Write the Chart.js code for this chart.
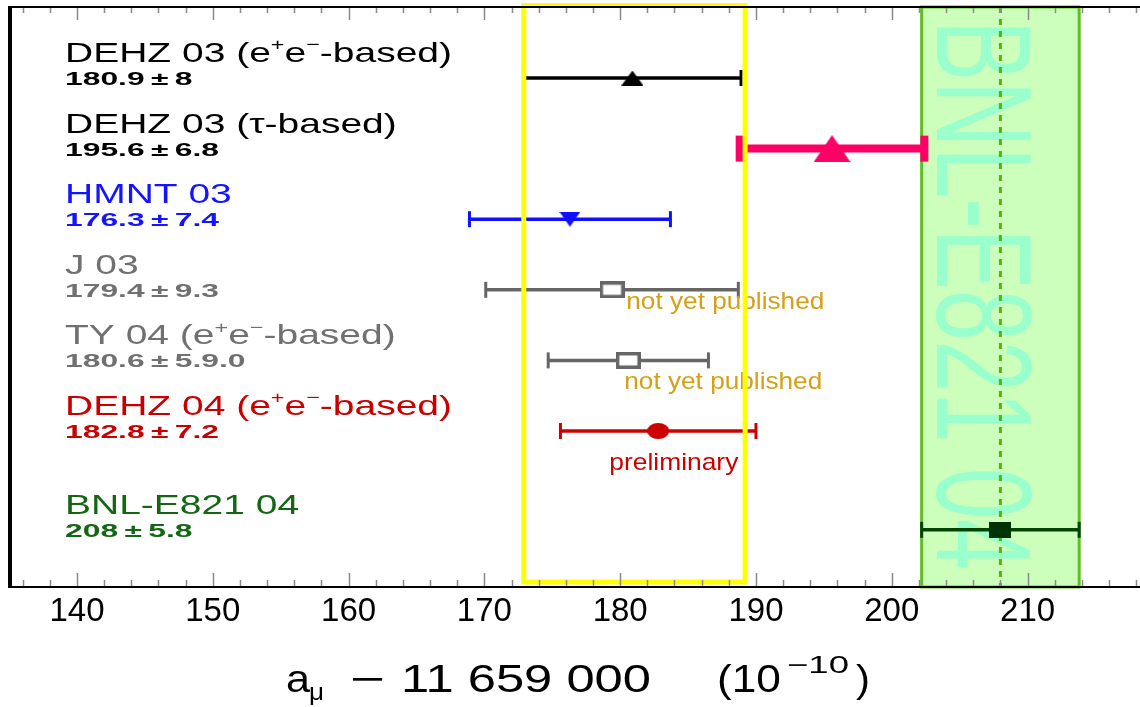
<!DOCTYPE html>
<html>
<head>
<meta charset="utf-8">
<script src="https://cdn.jsdelivr.net/npm/chart.js@4.4.1/dist/chart.umd.min.js"></script>
<style>
  html, body { margin: 0; padding: 0; background: #fff; }
  #wrap { width: 1140px; height: 707px; }
</style>
</head>
<body>
<div id="wrap"><canvas id="gm2" width="1140" height="707"></canvas></div>
<script>
// measurements of a_mu - 11 659 000, in 10^-10
const labels = [
  'DEHZ 03 (e⁺e⁻-based)',
  'DEHZ 03 (τ-based)',
  'HMNT 03',
  'J 03',
  'TY 04 (e⁺e⁻-based)',
  'DEHZ 04 (e⁺e⁻-based)',
  'BNL-E821 04'
];
const values = [180.9, 195.6, 176.3, 179.4, 180.6, 182.8, 208];
const errors = [8, 6.8, 7.4, 9.3, 5.9, 7.2, 5.8];
const valueText = ['180.9\u2009±\u20098', '195.6\u2009±\u20096.8', '176.3\u2009±\u20097.4', '179.4\u2009±\u20099.3', '180.6\u2009±\u20095.9.0', '182.8\u2009±\u20097.2', '208\u2009±\u20095.8'];
const xTicks = [140, 150, 160, 170, 180, 190, 200, 210];
const noteText = ['not yet published', 'not yet published', 'preliminary'];
const noteRow = [3, 4, 5];
const yellowBand = [172.9, 189.2];
const expIndex = 6; // BNL-E821 04 band

const FONT = '"Liberation Sans", Arial, Helvetica, sans-serif';

// look of each row
const rowStyle = [
  { color: '#000000', text: '#000000', lw: 3.5, cap: 8,  capW: 3, marker: ['triUp', 22, 15] },
  { color: '#ff0066', text: '#000000', lw: 8,   cap: 13, capW: 8, marker: ['triUp', 37, 27] },
  { color: '#1010ff', text: '#1414ff', lw: 3.5, cap: 8,  capW: 3, marker: ['triDown', 21, 15] },
  { color: '#666666', text: '#707070', lw: 3.5, cap: 8,  capW: 3, marker: ['openSq', 25, 17] },
  { color: '#666666', text: '#707070', lw: 3.5, cap: 8,  capW: 3, marker: ['openSq', 25, 17] },
  { color: '#cc0000', text: '#c80000', lw: 3.5, cap: 8,  capW: 3, marker: ['circle', 22, 16] },
  { color: '#004400', text: '#146614', lw: 3.5, cap: 8,  capW: 3, marker: ['sq', 22, 16], fill: '#003300' }
];
const slot = i => (i < 6 ? i : i + 0.4);

function makeMarker(kind, w, h, color) {
  const c = document.createElement('canvas');
  c.width = w; c.height = h;
  const g = c.getContext('2d');
  g.fillStyle = color;
  g.beginPath();
  if (kind === 'triUp') {
    g.moveTo(0, h); g.lineTo(w / 2, 0); g.lineTo(w, h); g.closePath(); g.fill();
  } else if (kind === 'triDown') {
    g.moveTo(0, 0); g.lineTo(w / 2, h); g.lineTo(w, 0); g.closePath(); g.fill();
  } else if (kind === 'circle') {
    g.ellipse(w / 2, h / 2, w / 2, h / 2, 0, 0, Math.PI * 2); g.fill();
  } else if (kind === 'openSq') {
    g.fillStyle = '#ffffff'; g.fillRect(0, 0, w, h);
    g.strokeStyle = color; g.lineWidth = 3.5;
    g.strokeRect(1.75, 1.75, w - 3.5, h - 3.5);
  } else {
    g.fillRect(0, 0, w, h);
  }
  return c;
}

const markers = rowStyle.map(s => makeMarker(s.marker[0], s.marker[1], s.marker[2], s.fill || s.color));

// error bars: one line dataset per row, end caps are rotated 'line' points
const barSets = values.map((v, i) => {
  const s = rowStyle[i];
  return {
    type: 'line',
    data: [{ x: v - errors[i], y: slot(i) }, { x: v + errors[i], y: slot(i) }],
    borderColor: s.color,
    borderWidth: s.lw,
    borderCapStyle: 'butt',
    pointStyle: 'line',
    pointRotation: 90,
    pointRadius: s.cap,
    pointBorderWidth: s.capW,
    pointBorderColor: s.color,
    pointBackgroundColor: s.color,
    showLine: true,
    fill: false,
    tension: 0,
    order: 1,
    clip: false
  };
});

const markerSet = {
  type: 'scatter',
  data: values.map((v, i) => ({ x: v, y: slot(i) })),
  pointStyle: markers,
  pointRadius: 10,
  order: 0,
  clip: false
};

// text with e⁺e⁻ style superscripts
function parts(text) {
  const out = [];
  for (const ch of text) {
    if (ch === '⁺' || ch === '⁻') out.push({ t: ch === '⁺' ? '+' : '−', sup: true });
    else if (out.length && !out[out.length - 1].sup) out[out.length - 1].t += ch;
    else out.push({ t: ch, sup: false });
  }
  return out;
}
function partsWidth(ctx, text, size, weight) {
  let w = 0;
  for (const p of parts(text)) {
    ctx.font = weight + ' ' + (p.sup ? size * 0.6 : size) + 'px ' + FONT;
    w += ctx.measureText(p.t).width;
  }
  return w;
}
function drawParts(ctx, text, x, y, size, weight, sx, color) {
  ctx.save();
  ctx.translate(x, y);
  ctx.scale(sx, 1);
  ctx.fillStyle = color;
  ctx.textBaseline = 'alphabetic';
  ctx.textAlign = 'left';
  let cx = 0;
  for (const p of parts(text)) {
    ctx.font = weight + ' ' + (p.sup ? size * 0.6 : size) + 'px ' + FONT;
    ctx.fillText(p.t, cx, p.sup ? -size * 0.42 : 0);
    cx += ctx.measureText(p.t).width;
  }
  ctx.restore();
}
function drawFit(ctx, text, x, y, font, width, color) {
  ctx.save();
  ctx.font = font;
  const sx = width ? width / ctx.measureText(text).width : 1.15;
  ctx.translate(x, y);
  ctx.scale(sx, 1);
  ctx.fillStyle = color || '#000';
  ctx.textBaseline = 'alphabetic';
  ctx.textAlign = 'left';
  ctx.fillText(text, 0, 0);
  ctx.restore();
}

const decor = {
  id: 'decor',
  beforeDatasetsDraw(chart) {
    const { ctx, chartArea: a, scales: { x } } = chart;
    const lo = x.getPixelForValue(values[expIndex] - errors[expIndex]);
    const hi = x.getPixelForValue(values[expIndex] + errors[expIndex]);
    ctx.save();
    ctx.fillStyle = '#ccffbb';
    ctx.fillRect(lo, a.top, hi - lo, a.bottom - a.top);
    ctx.strokeStyle = '#5fbf1f';
    ctx.lineWidth = 3;
    ctx.strokeRect(lo, a.top, hi - lo, a.bottom - a.top);

    // big rotated experiment name, about 550 px long
    ctx.font = '130px ' + FONT;
    const name = labels[expIndex];
    const sx = 550 / ctx.measureText(name).width;
    ctx.translate(lo + 15, a.top + 13);
    ctx.rotate(Math.PI / 2);
    ctx.scale(sx, 1.04);
    ctx.fillStyle = '#99ffcc';
    ctx.textBaseline = 'alphabetic';
    ctx.fillText(name, 0, 0);
    ctx.restore();

    const mid = x.getPixelForValue(values[expIndex]);
    ctx.save();
    ctx.strokeStyle = '#55b800';
    ctx.lineWidth = 3;
    ctx.setLineDash([6, 6]);
    ctx.beginPath();
    ctx.moveTo(mid, a.top);
    ctx.lineTo(mid, a.bottom);
    ctx.stroke();
    ctx.restore();
  },
  afterDatasetsDraw(chart) {
    const { ctx, chartArea: a, scales: { x, y } } = chart;

    // row names and values
    const lsx = 387 / partsWidth(ctx, labels[0], 28, 'normal');
    const vsx = 154 / partsWidth(ctx, valueText[1], 18, 'bold');
    labels.forEach((lab, i) => {
      const py = y.getPixelForValue(slot(i));
      drawParts(ctx, lab, 65, py - 16, 28, 'normal', lsx, rowStyle[i].text);
      drawParts(ctx, valueText[i], 65, py + 7, 18, 'bold', vsx, rowStyle[i].text);
    });

    // notes next to the bars
    const noteLook = [
      { x: 180.45, dy: 19, w: 198, color: '#d4a017' },
      { x: 180.3, dy: 29, w: 198, color: '#d4a017' },
      { x: 179.2, dy: 39, w: 129, color: '#cc0000' }
    ];
    noteText.forEach((t, k) => {
      const n = noteLook[k];
      const py = y.getPixelForValue(slot(noteRow[k]));
      drawFit(ctx, t, x.getPixelForValue(n.x), py + n.dy, '24px ' + FONT, n.w, n.color);
    });

    // yellow box
    const ya = x.getPixelForValue(yellowBand[0]);
    const yb = x.getPixelForValue(yellowBand[1]);
    ctx.save();
    ctx.strokeStyle = '#ffff00';
    ctx.lineWidth = 5;
    ctx.strokeRect(ya, a.top - 1.5, yb - ya, a.bottom - a.top - 3.5);

    // frame and inward ticks
    ctx.strokeStyle = '#8a8a8a';
    ctx.lineWidth = 1.5;
    ctx.beginPath();
    for (let v = Math.ceil(x.min / 2) * 2; v <= x.max; v += 2) {
      const px = Math.round(x.getPixelForValue(v)) + 0.5;
      const major = v % 10 === 0;
      ctx.moveTo(px, a.top); ctx.lineTo(px, a.top + (major ? 13 : 6));
      ctx.moveTo(px, a.bottom); ctx.lineTo(px, a.bottom - (major ? 14 : 7));
    }
    ctx.stroke();
    ctx.strokeStyle = '#000';
    ctx.lineWidth = 2;
    ctx.beginPath();
    ctx.moveTo(a.left, a.top); ctx.lineTo(a.right, a.top);
    ctx.moveTo(a.left, a.bottom); ctx.lineTo(a.right, a.bottom);
    ctx.stroke();
    ctx.lineWidth = 4;
    ctx.beginPath();
    ctx.moveTo(a.left, a.top - 1); ctx.lineTo(a.left, a.bottom + 1);
    ctx.stroke();
    ctx.restore();

    // axis title
    drawFit(ctx, 'a', 286, 692, '38px ' + FONT, 24);
    drawFit(ctx, 'μ', 309, 700, '24px ' + FONT, 15);
    drawFit(ctx, '−', 350, 692, '38px ' + FONT, 35);
    drawFit(ctx, '11 659 000', 401, 692, '38px ' + FONT, 250);
    drawFit(ctx, '(10', 717, 692, '38px ' + FONT, 64);
    drawFit(ctx, '−10', 787, 673, '24px ' + FONT, 62);
    drawFit(ctx, ')', 856, 692, '38px ' + FONT, 14);
  }
};

const chart = new Chart(document.getElementById('gm2'), {
  type: 'scatter',
  data: { datasets: [markerSet, ...barSets] },
  options: {
    responsive: false,
    animation: false,
    devicePixelRatio: 1,
    layout: { autoPadding: false, padding: { left: 10, top: 7, right: 0, bottom: 0 } },
    plugins: { legend: { display: false }, tooltip: { enabled: false } },
    scales: {
      x: {
        type: 'linear',
        min: 135.066,
        max: 218.28,
        afterBuildTicks: scale => { scale.ticks = xTicks.map(v => ({ value: v })); },
        afterFit: scale => { scale.height = 120; },
        ticks: {
          font: { family: FONT, size: 33 },
          color: '#000',
          padding: 5,
          autoSkip: false,
          maxRotation: 0
        },
        grid: { display: false, drawTicks: false },
        border: { display: false }
      },
      y: {
        type: 'linear',
        min: -1.006,
        max: 7.21,
        reverse: true,
        display: false
      }
    }
  },
  plugins: [decor]
});
</script>
</body>
</html>
